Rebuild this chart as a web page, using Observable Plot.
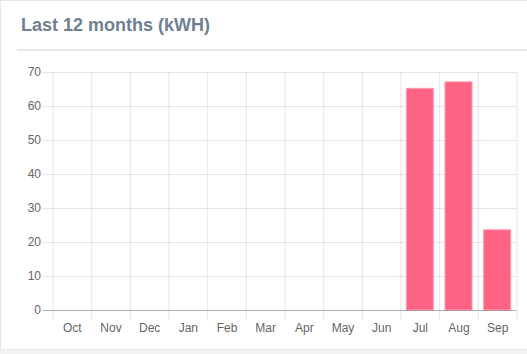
<!DOCTYPE html>
<html>
<head>
<meta charset="utf-8">
<script src="https://cdn.jsdelivr.net/npm/d3@7"></script>
<script src="https://cdn.jsdelivr.net/npm/@observablehq/plot@0.6"></script>
<style>
  html, body { margin: 0; padding: 0; background: #f2f3f5; width: 527px; height: 354px; overflow: hidden; }
  #card { position: absolute; left: 0; top: 0; width: 560px; height: 348px; background: #fff; border: 1px solid #e4e7eb; }
  #title { position: absolute; left: 21px; top: 15px; font: bold 18px "Liberation Sans", Arial, Helvetica, sans-serif; color: #6f8094; }
  #sep { position: absolute; left: 17px; top: 49px; width: 560px; height: 2px; background: #e5e8ec; }
  #chart { position: absolute; left: 0; top: 60px; }
</style>
</head>
<body>
<div id="card"></div>
<div id="title">Last 12 months (kWH)</div>
<div id="sep"></div>
<div id="chart"></div>
<script>
const months = ["Oct","Nov","Dec","Jan","Feb","Mar","Apr","May","Jun","Jul","Aug","Sep"];
const values = [0, 0, 0, 0, 0, 0, 0, 0, 0, 65.2, 67.1, 23.6];
const yTicks = [0, 10, 20, 30, 40, 50, 60, 70];

const data = months.map((m, i) => ({month: m, value: values[i]}));

const width = 527, height = 280;
const marginLeft = 52.5, marginRight = 10.5, marginTop = 12, marginBottom = 30;
const bw = (width - marginLeft - marginRight) / months.length;

const chart = Plot.plot({
  width, height, marginLeft, marginRight, marginTop, marginBottom,
  style: {fontFamily: '"Liberation Sans", Arial, Helvetica, sans-serif', fontSize: "12px", color: "#666", background: "transparent", overflow: "visible"},
  x: {domain: months, padding: 0, round: false, label: null},
  y: {domain: [0, 70], label: null},
  marks: [
    // horizontal grid + ticks
    Plot.ruleY(yTicks.filter(d => d !== 0), {y: d => d, stroke: "#000", strokeOpacity: 0.1, insetLeft: -10}),
    // vertical grid at band boundaries
    Plot.ruleX(months, {x: d => d, dx: -bw / 2, stroke: "#000", strokeOpacity: 0.1, insetBottom: -10}),
    Plot.ruleX(months.slice(-1), {x: d => d, dx: bw / 2, stroke: "#000", strokeOpacity: 0.1, insetBottom: -10}),
    Plot.barY(data, {x: "month", y: "value", fill: "#ff6384", stroke: "#ff9db1", strokeWidth: 1, insetLeft: 5.8, insetRight: 5.8}),
    Plot.ruleY([0], {stroke: "#000", strokeOpacity: 0.3, insetLeft: -10}),
    Plot.axisY({ticks: yTicks, tickSize: 0, tickPadding: 12, fill: "#666", fontSize: 12}),
    Plot.axisX({tickSize: 0, tickPadding: 10, fill: "#666", fontSize: 12, dy: 3})
  ]
});
document.getElementById("chart").appendChild(chart);
</script>
</body>
</html>
